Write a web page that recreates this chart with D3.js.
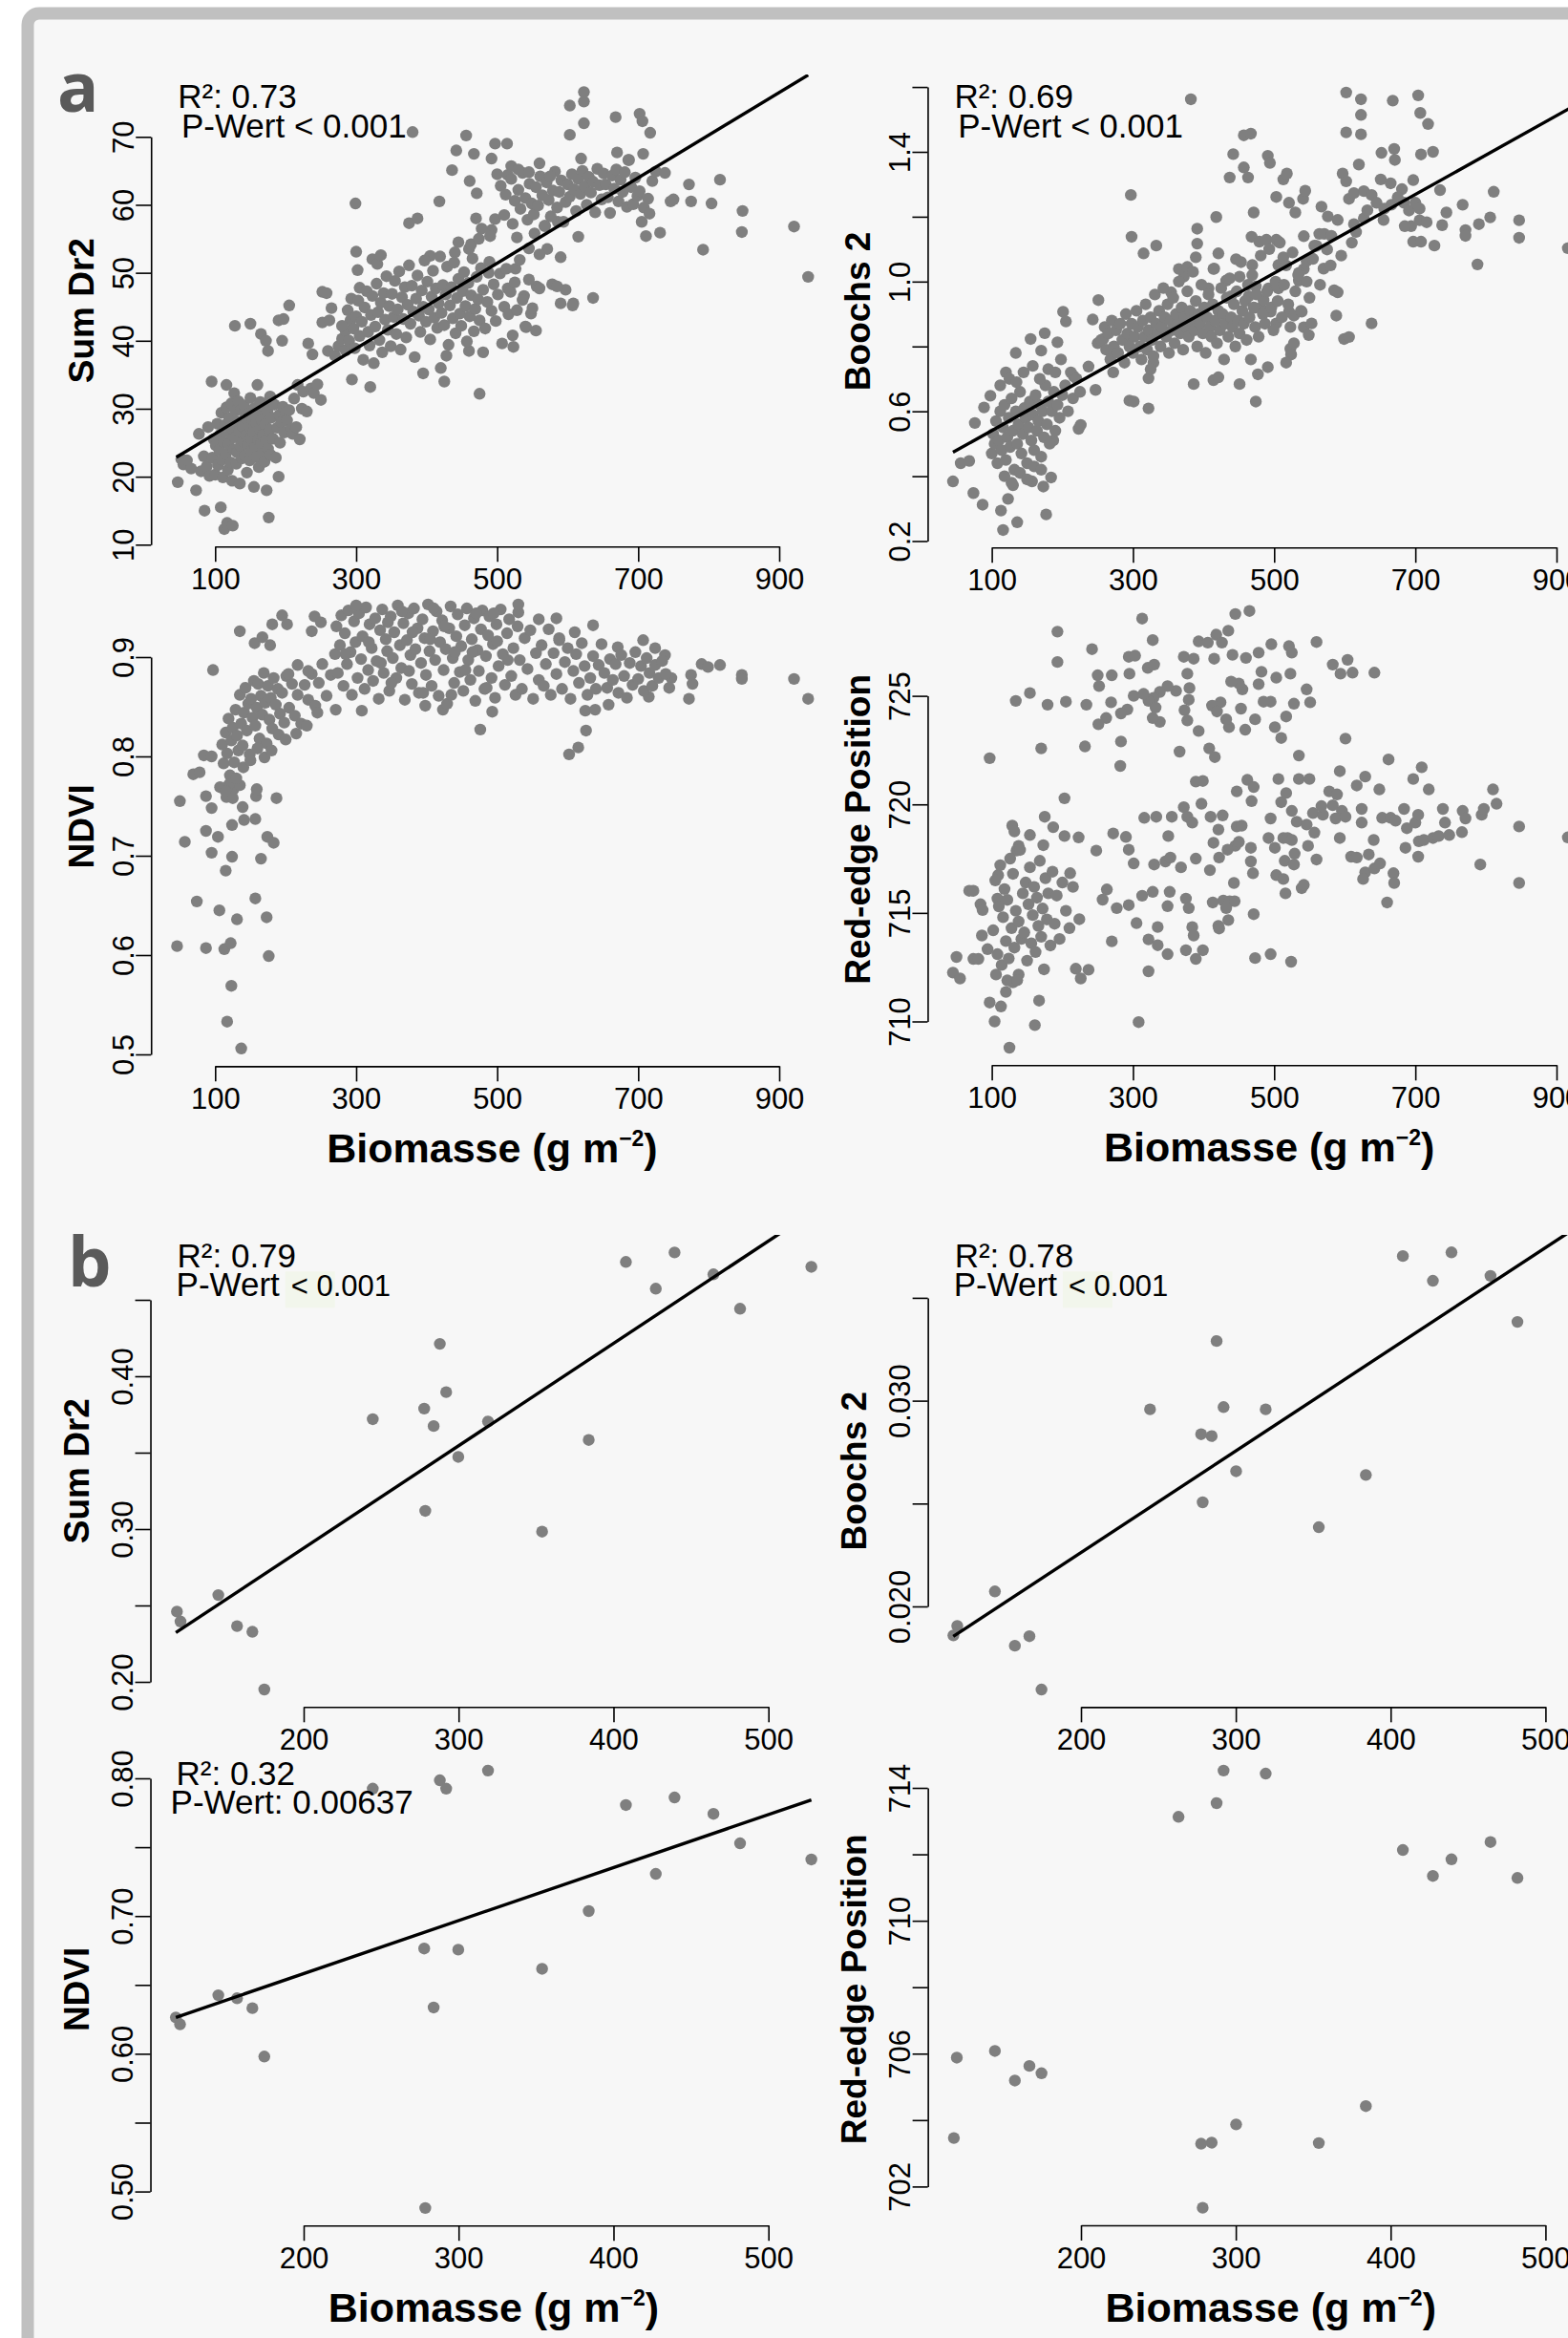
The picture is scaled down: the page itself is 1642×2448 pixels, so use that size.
<!DOCTYPE html>
<html>
<head>
<meta charset="utf-8">
<script src="https://cdn.jsdelivr.net/npm/d3@7"></script>
<style>
  body { margin: 0; background: #fff; }
  svg { display: block; }
</style>
</head>
<body>
<svg id="fig" width="1642" height="2448"></svg>
<script>
// ---- values ----
const xTicksA = [100, 300, 500, 700, 900];
const xTicksB = [200, 300, 400, 500];

const yTicksSumA = [10, 20, 30, 40, 50, 60, 70];
const yTicksBoochsA = [0.2, 0.4, 0.6, 0.8, 1.0, 1.2, 1.4, 1.6];
const yLabelsBoochsA = [0.2, 0.6, 1.0, 1.4];
const yTicksNdviA = [0.5, 0.6, 0.7, 0.8, 0.9];
const yTicksRedA = [710, 715, 720, 725];
const yTicksSumB = [0.20, 0.25, 0.30, 0.35, 0.40, 0.45];
const yLabelsSumB = [0.20, 0.30, 0.40];
const yTicksBoochsB = [0.020, 0.025, 0.030, 0.035];
const yLabelsBoochsB = [0.020, 0.030];
const yTicksNdviB = [0.50, 0.55, 0.60, 0.65, 0.70, 0.75, 0.80];
const yLabelsNdviB = [0.50, 0.60, 0.70, 0.80];
const yTicksRedB = [702, 704, 706, 708, 710, 712, 714];
const yLabelsRedB = [702, 706, 710, 714];

// regression lines (intercept, slope)
const fitSumA = [20.04, 0.06276];
const fitBoochsA = [0.419, 0.001214];
const fitSumB = [0.1535, 0.00067];
const fitBoochsB = [0.012738, 0.0000494];
const fitNdviB = [0.5812, 0.000385];

// [biomass, index]
const sumDr2A = [
[47,19.2],[52,22.6],[55,21.8],[60,22.4],[66,21.2],[73,18],[77,26.3],[80,20.8],[84,23],[85,15],[88,21.5],[90,27.3],[92,20.1],[95,34],[96,22.8],[98,25.5],
[100,20.3],[101,24.6],[103,27.8],[104,21.7],[106,23.9],[107,26.2],[108,15.5],[109,29.4],[110,22.5],[111,19.9],[112,25.1],[113,12.3],[114,27.6],[115,23.3],[116,33.5],[116,30.2],
[117,13.2],[118,21],[119,24.8],[120,28.6],[121,26.4],[122,22.1],[123,30.8],[124,19.4],[125,12.8],[125,27],[126,24],[127,32.3],[128,25.8],[129,29.7],[130,21.9],[131,23.6],
[132,28.1],[133,31.1],[134,26.7],[135,19],[136,24.5],[137,29.9],[138,22.7],[139,27.4],[140,25.2],[141,30.5],[142,23.1],[143,28.8],[144,26.1],[145,20.6],[146,24.7],[147,29.3],
[148,27.5],[149,22.4],[150,31.6],[151,25.7],[152,23.8],[153,28.4],[154,26.6],[155,18.5],[156,30.1],[157,24.3],[158,27.9],[159,22.9],[160,33.5],[160,29.2],[161,25.4],[162,21.4],
[163,27.1],[164,31],[165,24.9],[166,28.3],[167,23.4],[168,26.2],[169,30.4],[170,22.2],[171,27.7],[172,25.3],[173,18],[174,29.6],[175,24.1],[176,14],[177,26.9],[178,31.8],
[179,23.2],[180,28.7],[182,25.6],[184,30.6],[186,22.8],[188,27.2],[190,20],[191,29.1],[192,25],[194,28],[196,30.3],[198,26.5],[200,29.4],[202,28.3],[205,29.8],[207,27],
[210,26.3],[212,31.5],[215,27.3],[217,33.5],[220,25.5],[223,30],[225,32.5],[230,29.6],[236,33],[240,32.3],[245,33.6],[250,31.3],
[128,42.2],[150,42.5],[165,41],[172,40],[175,38.5],[190,43],[197,43.2],[195,40],[205,45.2],[232,39.6],[238,38],[252,47.2],[258,47],[252,42.7],[262,43],[265,44.8],
[260,38.5],[270,37.8],[275,39.2],[280,40.3],[285,41.5],[292,43],[299,60.2],
[294,34.3],[320,33.2],[300,53.1],[302,50.4],[305,47.8],[323,52],[330,51.3],[335,52.6],[375,57.3],[387,58],[405,52.5],[418,60.5],[395,35.2],[420,36],[425,34],[428,37.8],
[460,38.5],[480,38.3],[475,32.2],[440,53],[445,54.5],[460,53.5],[463,54.2],[474,55],[492,56.3],[488,50],[515,47.7],[526,50.6],[538,46.6],[541,42],[548,44],[523,39.1],
[556,48],[578,48.3],[590,52.3],[597,47.5],[608,45.5],[636,46.3],[571,53.5],[553,55.8],[568,56.9],[586,57.5],[560,47.7],[585,48],[590,45.5],[607,45.2],[615,55.3],[545,53.6],
[280,42.2],[285,38.6],[288,44.5],[290,40],[293,46.2],[296,41.8],[298,38.9],[300,43.6],[303,45.9],[305,40.7],[308,42.8],[310,37.2],[312,44.9],[315,47.3],[317,41.3],[319,39.3],
[321,43.8],[323,46.6],[325,36.7],[327,42.1],[329,48.4],[331,44.2],[333,40.1],[335,45.6],[337,38.3],[339,47],[341,43.1],[343,49.5],[345,41.6],[347,45.1],[349,39.2],[351,46.9],
[353,43.5],[355,48.8],[357,41],[359,44.6],[361,50.2],[363,38.7],[365,46.4],[367,43.2],[369,47.9],[371,40.5],[373,45.3],[375,51.1],[377,42.5],[379,48.1],[381,44.3],[383,37.6],
[385,46.2],[387,49.6],[389,43.7],[391,41.3],[393,47.4],[395,45],[397,51.8],[399,42.8],[401,48.7],[403,44.6],[405,40.2],[407,46.5],[409,50.3],[411,43.4],[413,47.7],[415,41.9],
[417,45.5],[419,52.4],[421,44.1],[423,48.2],[425,42.3],[427,46.8],[429,50.9],[431,39.4],[433,45.2],[435,47.9],[437,43.3],[439,51.5],[441,41.1],[443,46.3],[445,49.1],[447,44],
[449,42.2],[451,47.3],[453,50.1],[455,45.1],[457,39.9],[459,48.5],[461,43.6],[463,46.7],[465,52.1],[467,41.4],[469,44.7],[471,49.4],[473,46.1],[475,43],[477,50.7],[480,47.5],
[483,41.8],[486,45.7],[489,51.6],[492,44.4],[495,48.3],[498,42.9],[501,46.8],[504,49.9],[507,39.6],[510,45],[513,50.6],[516,43.9],[519,47.2],[522,40.8],[525,48.6],[528,44.5],
[532,51.9],[536,46],[540,42.1],[545,49],[550,44.8],[555,41.5],[560,52.7],
[470,58],[478,56.5],[490,55.4],[497,57.9],[500,64.5],[505,62.8],[510,58.5],[512,61.5],[515,64.4],[520,63.8],[522,57.2],[525,60.6],[528,55.2],[530,62.2],[533,59.4],[536,64.7],
[540,61],[543,57.8],[546,63.1],[549,60.2],[552,58.6],[555,62.6],[558,59.9],[561,64.2],[564,61.4],[567,56.9],[570,63.3],[573,60.7],[576,58.3],[579,62.1],[582,64.9],[585,59.6],
[588,61.9],[591,63.6],[594,57.5],[597,60.4],[600,63],[603,61.2],[606,64.5],[609,62.3],[612,59.1],[615,63.8],[618,61.6],[621,65],[624,62.7],[627,60],[630,64.1],[633,61.8],
[636,63.4],[639,58.9],[642,65.3],[645,62.9],[648,60.8],[651,64.6],[654,63],[657,61.1],[660,58.8],[663,64.3],[666,62.4],[669,65.2],[672,60.5],[675,63.7],[678,61.9],[681,64.8],
[684,59.7],[687,66.6],[690,62.6],[693,60.1],[696,64],[699,61.3],[702,62],[705,57.5],[708,59.6],[711,55.4],[714,60.9],[716,58.7],[720,63.5],[725,64.9],[731,55.9],[738,64.7],
[746,60.5],[750,60.8],
[380,70.7],[436,65.1],[442,68],[456,70.2],[461,63.5],[467,67.5],[471,61.7],[492,66.8],[497,69],[514,69],[520,65.7],[530,65.2],[545,64.8],[560,66.1],[575,64.2],[603,74.6],
[603,70.3],[619,66.8],[623,76.6],[623,75.2],[623,72],[668,72.9],[670,67.7],[686,66.6],[702,73.4],[706,72.3],[707,67.5],[717,70.6],
[772,63],[775,60.5],[792,53.4],[804,60.2],[816,63.7],[847,56],[848,59.1],[921,56.8],[941,49.4]
];

const boochsA = [
[45,0.384],[56,0.44],[68,0.447],[74,0.348],[87,0.312],[76,0.564],[89,0.612],[98,0.648],[113,0.294],[116,0.234],[136,0.258],[123,0.33],[130,0.372],[120,0.72],[134,0.78],[155,0.823],
[175,0.841],[193,0.813],[170,0.787],[177,0.282],[173,0.368],[157,0.384],[184,0.396],[187,0.51],[201,0.907],[205,0.877],[216,0.708],[223,0.546],[226,0.558],[237,0.738],[247,0.666],[251,0.943],
[243,0.883],
[100,0.47],[102,0.53],[104,0.5],[106,0.57],[108,0.44],[110,0.51],[112,0.6],[114,0.48],[116,0.55],[118,0.62],[120,0.45],[122,0.52],[124,0.58],[126,0.49],[128,0.64],[130,0.54],
[132,0.42],[134,0.6],[136,0.5],[138,0.56],[140,0.66],[142,0.47],[144,0.53],[146,0.61],[148,0.58],[150,0.44],[152,0.55],[154,0.63],[156,0.51],[158,0.59],[160,0.48],[162,0.65],
[164,0.54],[166,0.57],[168,0.62],[170,0.46],[172,0.6],[174,0.52],[176,0.68],[178,0.56],[180,0.63],[182,0.5],[185,0.6],[188,0.66],[190,0.54],[193,0.62],[196,0.58],[200,0.65],
[204,0.68],[208,0.6],[212,0.72],[215,0.64],[220,0.7],[225,0.66],[118,0.4],[128,0.38],[140,0.41],[150,0.39],[160,0.43],[170,0.42],[112,0.68],[125,0.7],[135,0.69],[145,0.72],
[158,0.74],[168,0.7],[180,0.73],[190,0.72],[198,0.76],
[297,1.267],[298,1.138],[315,1.087],[333,1.111],[295,0.633],[322,0.609],[322,0.702],[382,1.562],[391,1.163],[391,1.117],[386,0.684],[418,1.199],[421,1.087],[446,1.069],[414,0.696],[421,0.705],
[451,0.684],[474,0.63],[491,0.736],[477,0.714],[437,1.321],[442,1.393],[457,1.451],[467,1.456],[457,1.352],[463,1.321],[468,1.138],[471,1.213],[491,1.388],[494,1.366],
[293,0.817],[258,0.823],[268,0.787],[250,0.81],[272,0.72],[301,0.63],[329,0.75],[325,0.73],[354,0.967],[372,1.015],[365,1.039],[377,1.045],[389,1.075],[407,0.979],[414,1.039],[432,1.003],
[439,0.955],[451,1.015],[474,0.985],[481,0.919],[495,0.907],[503,0.871],[521,0.907],[528,0.895],[539,0.907],[542,0.859],[553,0.871],[523,0.793],[524,0.775],[517,0.75],[528,0.81],[549,0.835],
[535,1.003],[542,1.039],[535,1.027],[546,1.063],[557,1.111],[564,1.147],[571,1.147],[575,1.099],[513,1.075],[506,1.051],[492,0.979],[506,0.979],[485,0.943],[472,0.919],[464,0.955],[469,1.051],
[479,1.123],[489,1.129],[503,1.129],[506,1.123],
[255,0.82],[260,0.86],[262,0.79],[265,0.84],[268,0.76],[270,0.88],[273,0.8],[276,0.85],[279,0.78],[282,0.87],[285,0.82],[288,0.75],[290,0.9],[292,0.84],[295,0.8],[298,0.87],
[300,0.78],[302,0.83],[305,0.91],[307,0.86],[310,0.8],[312,0.76],[314,0.88],[316,0.83],[318,0.93],[320,0.79],[322,0.85],[325,0.89],[327,0.82],[329,0.77],[331,0.96],[333,0.87],
[335,0.84],[337,0.91],[339,0.8],[341,0.86],[343,0.98],[345,0.89],[347,0.83],[349,0.93],[351,0.78],[353,0.88],[355,0.85],[357,0.95],[359,0.81],[361,0.9],[363,0.87],[365,1.0],
[367,0.84],[369,0.92],[371,0.79],[373,0.89],[375,0.86],[377,0.97],[379,0.83],[381,0.91],[383,0.88],[385,1.03],[387,0.85],[389,0.94],[391,0.8],[393,0.9],[395,0.87],[397,0.99],
[399,0.84],[401,0.92],[403,0.78],[405,0.89],[407,0.96],[409,0.86],[411,0.83],[413,0.93],[415,1.04],[417,0.88],[419,0.81],[421,0.91],[423,0.85],[425,0.98],[427,0.9],[429,0.76],
[431,0.87],[433,0.95],[435,0.83],[437,1.01],[439,0.89],[441,0.86],[443,0.93],[445,0.8],[447,0.97],[449,0.88],[451,0.84],[453,1.06],[455,0.91],[457,0.87],[459,0.94],[461,0.82],
[463,0.99],[465,0.89],[467,0.76],[469,1.02],[471,0.92],[473,0.86],[475,0.96],[478,0.83],[481,1.08],[484,0.9],[487,0.87],[490,0.97],[493,1.1],[496,0.92],[499,0.85],[502,1.0],
[505,0.94],[508,1.12],[511,0.89],[514,0.99],[517,1.05],[520,0.93],[523,0.86],[526,1.09],[530,0.97],[534,1.02],[538,0.91],[542,1.14],[546,1.0],[550,0.95],[555,1.07],[560,1.11],
[565,0.99],[570,1.04],
[513,1.315],[518,1.333],[503,1.261],[521,1.243],[541,1.255],[544,1.28],[530,1.213],[567,1.231],[576,1.201],[581,1.141],[597,1.333],[602,1.309],[620,1.361],[602,1.46],[602,1.583],[623,1.562],
[623,1.514],[623,1.454],[668,1.558],[704,1.574],[707,1.52],[718,1.486],[708,1.392],[725,1.4],[652,1.397],[670,1.409],[671,1.375],[697,1.313],[651,1.315],[665,1.303],[681,1.285],[606,1.255],
[613,1.273],[627,1.279],[638,1.267],[645,1.243],[656,1.225],[666,1.237],[684,1.243],[691,1.219],[700,1.243],[706,1.225],[694,1.171],[685,1.171],[706,1.189],[716,1.183],[697,1.123],[708,1.123],
[727,1.111],[735,1.282],[744,1.213],[738,1.174],[767,1.237],[771,1.159],[771,1.141],[790,1.177],[806,1.198],[811,1.277],[788,1.053],[847,1.189],[847,1.135],[916,1.103],
[585,0.973],[590,0.967],[588,0.895],[599,0.823],[606,0.829],[638,0.871],[616,1.153],[613,1.177],[627,1.195],[580,1.05],[595,1.08],[610,1.12],[632,1.22],[655,1.19],[675,1.26],[590,1.19]
];

const ndviA = [
[46,0.609],[87,0.607],[113,0.606],[122,0.612],[123,0.569],[117,0.533],[137,0.506],[176,0.599],[74,0.654],[106,0.645],[131,0.636],[157,0.657],[173,0.638],[50,0.755],[57,0.714],[87,0.725],
[104,0.719],[95,0.703],[115,0.685],[124,0.699],[124,0.731],[141,0.736],[157,0.737],[165,0.697],[174,0.719],[183,0.713],[87,0.76],[95,0.748],[139,0.749],[158,0.76],[159,0.767],[187,0.758],
[97,0.887],[135,0.926],[69,0.782],[78,0.784],[84,0.801],[95,0.8],[107,0.769],[116,0.759],[126,0.767],[135,0.771],
[110,0.812],[112,0.793],[115,0.824],[117,0.803],[119,0.838],[121,0.781],[123,0.816],[125,0.829],[127,0.794],[129,0.847],[131,0.821],[133,0.806],[135,0.862],[137,0.833],[139,0.811],[141,0.844],
[143,0.869],[145,0.826],[147,0.853],[149,0.802],[151,0.858],[153,0.839],[155,0.876],[157,0.831],[159,0.849],[161,0.873],[163,0.818],[165,0.861],[167,0.842],[169,0.884],[171,0.854],[173,0.813],
[175,0.871],[177,0.837],[179,0.859],[181,0.828],[183,0.879],[186,0.852],[189,0.868],[192,0.843],[195,0.864],[198,0.834],[201,0.881],[205,0.849],[209,0.873],[213,0.841],[217,0.862],[222,0.833],
[227,0.872],[232,0.857],[237,0.883],[242,0.851],[247,0.874],[252,0.893],[258,0.861],[264,0.882],[120,0.772],[130,0.778],[140,0.789],[150,0.796],[160,0.808],[170,0.799],[180,0.806],[190,0.822],
[200,0.817],[215,0.823],[230,0.831],[115,0.765],[125,0.758],
[195,0.942],[202,0.933],[181,0.933],[156,0.914],[178,0.912],[167,0.92],[241,0.941],[250,0.935],[237,0.926],[217,0.892],[204,0.883],[232,0.886],
[476,0.827],[602,0.802],[615,0.809],[626,0.826],[625,0.846],[639,0.847],[658,0.852],[715,0.86],[772,0.858],[777,0.873],[775,0.882],[790,0.893],[799,0.89],[816,0.892],[847,0.882],[847,0.878],
[921,0.878],[941,0.858],[747,0.879],[738,0.902],[724,0.909],[707,0.917],[671,0.91],[636,0.932],[610,0.925],[588,0.917],[584,0.939],[559,0.938],[530,0.945],[308,0.846],[271,0.847],[245,0.844],
[423,0.847],[398,0.851],[493,0.845],
[270,0.903],[272,0.931],[274,0.884],[277,0.912],[279,0.942],[282,0.871],[284,0.924],[287,0.893],[289,0.947],[292,0.905],[294,0.862],[297,0.936],[299,0.915],[302,0.879],[304,0.944],[307,0.898],
[309,0.921],[312,0.868],[314,0.95],[317,0.887],[319,0.933],[322,0.909],[324,0.876],[327,0.939],[329,0.896],[332,0.858],[334,0.927],[337,0.948],[339,0.884],[342,0.918],[344,0.906],[347,0.866],
[349,0.941],[352,0.899],[354,0.925],[357,0.879],[359,0.952],[362,0.912],[364,0.889],[367,0.934],[369,0.857],[372,0.917],[374,0.944],[377,0.902],[379,0.873],[382,0.949],[384,0.908],[387,0.929],
[389,0.864],[392,0.894],[394,0.938],[397,0.919],[399,0.882],[402,0.953],[404,0.906],[407,0.871],[409,0.926],[412,0.897],[414,0.946],[417,0.861],[419,0.915],[422,0.937],[424,0.887],[427,0.908],
[429,0.853],[432,0.929],[434,0.951],[437,0.899],[439,0.874],[442,0.921],[444,0.943],[447,0.885],[449,0.911],[452,0.866],[454,0.932],[457,0.949],[459,0.897],[462,0.877],[464,0.918],[467,0.939],
[469,0.856],[472,0.907],[474,0.886],[477,0.928],[479,0.947],[482,0.868],[484,0.901],[487,0.922],[489,0.941],[492,0.879],[494,0.913],[497,0.859],[499,0.933],[502,0.891],[505,0.948],[508,0.903],
[511,0.872],[514,0.924],[517,0.938],[520,0.881],[523,0.909],[526,0.862],[529,0.931],[532,0.897],[535,0.868],[539,0.919],[543,0.888],[547,0.927],[551,0.858],[555,0.904],[559,0.877],
[285,0.903],[300,0.952],[318,0.915],[335,0.894],[350,0.874],[365,0.946],[380,0.925],[395,0.864],[410,0.949],[425,0.931],[440,0.905],[455,0.887],[470,0.944],[485,0.869],[500,0.916],[515,0.897],
[530,0.953],[345,0.935],[375,0.886],[405,0.918],[435,0.862],[465,0.905],[495,0.944],
[563,0.912],[566,0.871],[569,0.893],[573,0.928],[576,0.862],[580,0.904],[584,0.883],[588,0.919],[592,0.868],[596,0.895],[600,0.909],[604,0.858],[608,0.886],[612,0.903],[616,0.874],[620,0.914],
[624,0.891],[628,0.862],[632,0.879],[636,0.901],[640,0.868],[644,0.892],[648,0.913],[652,0.884],[656,0.869],[660,0.898],[664,0.877],[668,0.893],[672,0.864],[676,0.902],[680,0.881],[684,0.859],
[688,0.894],[692,0.872],[696,0.905],[700,0.878],[704,0.891],[708,0.866],[712,0.899],[716,0.884],[720,0.871],[724,0.892],[729,0.879],[734,0.896],[739,0.883],[744,0.869]
];

const redEdgeA = [
[193,727.96],[193,726.56],[313,728.56],[328,727.57],[242,727.15],[294,726.8],[303,726.85],[295,726.02],[270,725.95],[250,725.95],[252,725.45],[321,726.29],[330,726.44],[372,726.8],[386,726.71],[377,726.02],
[393,727.51],[406,727.45],[418,727.82],[426,727.45],[435,728],[445,728.77],[465,728.91],[415,726.71],[441,726.89],[460,726.75],[478,726.99],[496,727.38],[521,727.29],[525,726.99],[560,727.48],[583,726.44],
[594,726.02],[604,726.66],[611,726.07],[642,726.07],[523,726.02],[503,725.84],[546,725.3],[551,724.7],[528,724.64],[495,724.73],[485,724.73],[482,726.11],[478,725.54],[455,725.3],[450,725.57],[439,725.66],
[453,724.41],[473,723.92],[459,723.44],[501,723.56],[510,723.06],[517,724.05],[436,723.56],[432,723.92],[424,724.7],[412,724.55],[419,724.28],[393,723.38],[408,722.58],[416,722.18],[380,725.36],[379,724.82],
[373,724.34],[377,723.87],[361,725.23],[349,725.45],[338,725.18],[329,724.91],[322,724.77],[315,725.09],[301,725],[332,724.46],[338,723.8],[328,723.98],[292,724.37],[283,724.19],[269,724.7],[262,723.98],
[251,723.69],[234,724.59],[205,724.73],[179,724.59],[154,725.13],[134,724.77],[283,722.9],[232,722.67],[170,722.58],[97,722.13],[282,721.77],[366,722.43],[601,723.03],[535,722.25],
[45,712.25],[50,712.97],[55,711.98],[68,716.02],[74,716.02],[74,712.88],[84,715.4],[87,715.13],[86,713.96],[81,712.88],[94,713.33],[97,710.87],[104,710],[109,716.74],[108,715.66],[106,712.16],
[113,710.69],[125,708.79],[122,711.89],[120,711.36],[130,711.8],[138,712.16],[129,719.02],[132,718.75],[138,718.09],[135,717.87],[154,718.59],[167,710.96],[161,709.83],[175,719.43],[173,718.12],[187,718.95],
[203,718.54],[203,720.28],[223,718.48],[211,716.83],[224,714.71],[219,712.43],[226,711.98],[237,712.38],[248,717.87],[263,716.08],[257,715.61],[270,713.69],[272,718.66],[290,718.5],[294,717.91],[301,717.28],
[305,714.53],[294,715.36],[277,715.22],[316,719.38],[333,719.43],[313,715.79],[328,715.97],[322,713.78],[322,712.31],[308,709.97],[335,713.51],[349,713.1],[335,714.35],[330,717.23],[346,717.37],[353,717.55],
[350,718.54],[355,719.43],[352,715.97],[349,715.31],[372,719.87],[377,719.43],[384,719.16],[368,717.1],[375,715.66],[379,715.22],[384,714.35],[386,713.96],[375,713.28],[389,712.88],[399,713.28],[389,721.05],
[399,721.08],[397,720.03],[410,719.43],[421,718.84],[427,719.49],[414,718.23],[422,717.55],[409,716.97],[389,717.5],[413,715.48],[428,715.57],[437,715.54],[444,715.54],[432,715.22],[435,714.67],[421,714.4],
[422,714.28],[443,716.38],[447,718.98],[454,719.02],[445,718.09],[434,717.91],[450,718.27],[467,718],[467,717.37],[470,716.83],[471,714.94],[473,712.92],[495,713.1],[524,712.75],[447,720.6],[462,721.13],
[468,720.15],[471,720.8],[495,719.35],[492,718.45],[501,718],[513,718.45],[519,718.45],[525,718.36],[529,717.73],[515,717.4],[503,716.74],[513,716.56],[516,715.9],[528,717.23],[539,716.14],[542,716.29],
[506,721.17],[535,721.17],[550,721.17],[510,720.1],[517,720.52],[525,719.7],[532,719.2],[546,719.07],[555,719.6],[557,718.7],[548,718.09],[560,717.46],[578,720.6],[583,719.96],[589,720.46],[596,719.7],
[587,719.35],[601,719.43],[593,718.45],[569,719.52],[567,719.92],[593,721.53],[617,720.87],[629,721.28],[624,719.79],[624,719.16],[609,717.59],[617,717.55],[634,717.69],[629,716.87],[626,716.56],[642,717.05],
[650,717.28],[641,718.36],[649,720.69],[662,722.07],[653,719.38],[665,719.38],[672,719.25],[660,715.48],[669,716.83],[670,716.38],[684,719.79],[688,718.9],[686,718],[697,721.17],[700,719.16],[704,719.52],
[709,721.71],[719,720.69],[705,718.3],[712,718.36],[725,718.45],[733,718.54],[704,717.59],[742,719.16],[739,719.79],[748,718.59],[767,719.7],[771,719.35],[766,718.72],[794,719.52],[797,719.79],[810,720.69],
[815,720.03],[792,717.23],[847,718.98],[847,716.38],[916,718.48],
[102,714.2],[105,716.5],[108,713.1],[110,715.3],[112,717.2],[114,712.6],[116,714.8],[118,716.1],[120,713.7],[122,715.6],[124,712.9],[126,717.5],[128,714.3],[130,716.8],[132,713.4],[134,715.1],
[136,711.9],[138,714.6],[140,717.9],[142,713.8],[144,715.9],[146,714.1],[148,716.4],[150,712.8],[152,715.4],[154,717.1],[156,713.6],[158,714.9],[160,716.2],[162,713.2],[164,715.7],[166,714.4],
[168,717.4],[170,713.9],[172,715.2],[174,712.4],[176,716.6],[178,714.7],[180,715.9],[183,713.5],[186,716.9],[189,714.5],[192,715.8],[196,713.8],[200,716.4],[205,715.1],[210,714.3],[215,716.2]
];

const sumDr2B = [
[118.2,0.246],[120.5,0.2395],[144.9,0.2568],[157,0.2365],[166.9,0.2328],[174.6,0.195],[244.6,0.3719],[277.8,0.3788],[283.9,0.3674],[287.9,0.4212],[292,0.3896],
[278.5,0.3119],[299.8,0.3472],[319,0.3704],[353.9,0.2983],[384,0.3583],[408,0.4748],[427.3,0.4573],[439.4,0.481],[464.5,0.4667],[481.7,0.4442],[527.7,0.4716]
];
const boochsB = [
[117.6,0.01859],[120.1,0.01905],[144.4,0.02073],[157.3,0.01809],[166.7,0.01855],[174.5,0.01596],[244.6,0.02958],[277.6,0.02837],[284.4,0.02828],[287.6,0.0329],[292.1,0.02969],
[278.6,0.02506],[300.2,0.02657],[319.3,0.02958],[353.6,0.02385],[384,0.02639],[407.9,0.03703],[427.3,0.03583],[439.3,0.03721],[464.5,0.03607],[481.9,0.03383]
];
const ndviB = [
[117.5,0.6264],[120.2,0.6214],[144.9,0.6425],[157,0.6403],[166.9,0.6331],[174.6,0.598],[244.6,0.7925],[277.8,0.6764],[283.9,0.6336],[287.9,0.7986],[292,0.7925],
[278.5,0.488],[299.8,0.6756],[319,0.8056],[353.9,0.6617],[384,0.7036],[408,0.7806],[427.3,0.7306],[439.4,0.7861],[464.5,0.7742],[481.7,0.7528],[527.7,0.7411]
];
const redEdgeB = [
[117.9,703.46],[119.8,705.88],[144.4,706.08],[157.3,705.19],[166.7,705.63],[174.5,705.41],[263,713.13],[277.6,703.29],[284.4,703.32],[287.6,713.54],[292.1,714.52],
[278.6,701.36],[300.2,703.87],[319.3,714.43],[353.6,703.31],[384,704.42],[407.9,712.13],[427.3,711.35],[439.3,711.85],[464.5,712.37],[481.9,711.29]
];

// ---- layout ----
const FONT = "'Liberation Sans', Arial, Helvetica, sans-serif";
const svg = d3.select("#fig");

svg.append("rect")
  .attr("x", 29).attr("y", 14)
  .attr("width", 1760).attr("height", 2560)
  .attr("rx", 12)
  .attr("fill", "#f7f7f7")
  .attr("stroke", "#c0c0c0")
  .attr("stroke-width", 13);

const rowA = { yTitleOff: 60, noteDx: [28, 22] };
const rowB = { yTitleOff: 65, noteDx: [28, 27] };

const panels = [
  { grp: "a", data: sumDr2A, xa: [100, 225.3, 900, 816], ya: [10, 570.3, 70, 143.3], xTicks: xTicksA, yTicks: yTicksSumA, yLabels: yTicksSumA,
    fmt: d3.format("d"), title: "Sum Dr2", row: rowA, fit: fitSumA,
    notes: [["R²: 0.73", 113.3], [" P-Wert < 0.001", 144]] },
  { grp: "a", data: boochsA, xa: [100, 1038.6, 900, 1630], ya: [0.2, 566.5, 1.4, 159], xTicks: xTicksA, yTicks: yTicksBoochsA, yLabels: yLabelsBoochsA,
    fmt: d3.format(".1f"), title: "Boochs 2", row: rowA, fit: fitBoochsA,
    notes: [["R²: 0.69", 113.3], [" P-Wert < 0.001", 144]] },
  { grp: "a", data: ndviA, xa: [100, 225.3, 900, 816], ya: [0.5, 1104, 0.9, 688], xTicks: xTicksA, yTicks: yTicksNdviA, yLabels: yTicksNdviA,
    fmt: d3.format(".1f"), title: "NDVI", row: rowA, xTitle: true },
  { grp: "a", data: redEdgeA, xa: [100, 1038.6, 900, 1630], ya: [710, 1069.5, 725, 728.6], xTicks: xTicksA, yTicks: yTicksRedA, yLabels: yTicksRedA,
    fmt: d3.format("d"), title: "Red-edge Position", row: rowA, xTitle: true },
  { grp: "b", data: sumDr2B, xa: [200, 318, 500, 804.7], ya: [0.20, 1761, 0.40, 1441], xTicks: xTicksB, yTicks: yTicksSumB, yLabels: yLabelsSumB,
    fmt: d3.format(".2f"), title: "Sum Dr2", row: rowB, fit: fitSumB,
    notes: [["R²: 0.79", 1327.3], ["P-Wert", 1357.3, "< 0.001"]] },
  { grp: "b", data: boochsB, xa: [200, 1132, 500, 1618.4], ya: [0.020, 1682, 0.030, 1466.6], xTicks: xTicksB, yTicks: yTicksBoochsB, yLabels: yLabelsBoochsB,
    fmt: d3.format(".3f"), title: "Boochs 2", row: rowB, fit: fitBoochsB,
    notes: [["R²: 0.78", 1327.3], ["P-Wert", 1357.3, "< 0.001"]] },
  { grp: "b", data: ndviB, xa: [200, 318, 500, 804.7], ya: [0.50, 2294.6, 0.80, 1862], xTicks: xTicksB, yTicks: yTicksNdviB, yLabels: yLabelsNdviB,
    fmt: d3.format(".2f"), title: "NDVI", row: { yTitleOff: 65, noteDx: [27, 21] }, fit: fitNdviB, xTitle: true,
    notes: [["R²: 0.32", 1868.9], ["P-Wert: 0.00637", 1898.9]] },
  { grp: "b", data: redEdgeB, xa: [200, 1132, 500, 1618.4], ya: [702, 2289.4, 714, 1872], xTicks: xTicksB, yTicks: yTicksRedB, yLabels: yLabelsRedB,
    fmt: d3.format("d"), title: "Red-edge Position", row: rowB, xTitle: true }
];

// R default axis range: data range widened by 4 %
function rlim(vals) {
  const [lo, hi] = d3.extent(vals);
  const pad = (hi - lo) * 0.04;
  return [lo - pad, hi + pad];
}

// the four panels of a block share the same biomass samples
const biomass = {};
panels.forEach(p => {
  biomass[p.grp] = (biomass[p.grp] || []).concat(p.data.map(d => d[0]));
});

panels.forEach((p, i) => {
  const x = d3.scaleLinear().domain([p.xa[0], p.xa[2]]).range([p.xa[1], p.xa[3]]);
  const y = d3.scaleLinear().domain([p.ya[0], p.ya[2]]).range([p.ya[1], p.ya[3]]);
  const xlim = rlim(biomass[p.grp]);
  const ylim = rlim(p.data.map(d => d[1]));
  const left = x(xlim[0]), right = x(xlim[1]);
  const top = y(ylim[1]), bottom = y(ylim[0]);

  const g = svg.append("g").attr("class", "panel");

  g.append("clipPath").attr("id", "clip" + i)
    .append("rect")
    .attr("x", left).attr("y", top)
    .attr("width", right - left).attr("height", bottom - top);

  g.append("g")
    .selectAll("circle")
    .data(p.data)
    .join("circle")
    .attr("cx", d => x(d[0]))
    .attr("cy", d => y(d[1]))
    .attr("r", 6.2)
    .attr("fill", "#7f7f7f");

  if (p.fit) {
    const [b0, b1] = p.fit;
    const ends = d3.extent(biomass[p.grp]).map(v => [v, b0 + b1 * v]);
    g.append("path")
      .attr("clip-path", `url(#clip${i})`)
      .attr("d", d3.line().x(d => x(d[0])).y(d => y(d[1]))(ends))
      .attr("fill", "none")
      .attr("stroke", "#000")
      .attr("stroke-width", 3.4);
  }

  // x axis, line only between first and last tick (R style)
  const xt = d3.extent(p.xTicks);
  const xAxisScale = x.copy().domain(xt).range(xt.map(x));
  const ax = g.append("g")
    .attr("transform", `translate(0,${bottom})`)
    .call(d3.axisBottom(xAxisScale).tickValues(p.xTicks).tickSize(16).tickSizeOuter(0).tickFormat(d3.format("d")));
  ax.selectAll("text").attr("y", 45).attr("dy", null);

  const yt = d3.extent(p.yTicks);
  const yAxisScale = y.copy().domain(yt).range(yt.map(y));
  const ay = g.append("g")
    .attr("transform", `translate(${left},0)`)
    .call(d3.axisLeft(yAxisScale).tickValues(p.yTicks).tickSize(16).tickSizeOuter(0)
      .tickFormat(d => p.yLabels.includes(d) ? p.fmt(d) : ""));
  ay.selectAll("text")
    .attr("transform", "rotate(-90)")
    .attr("x", 0).attr("y", -18.6).attr("dy", null)
    .attr("text-anchor", "middle");

  [ax, ay].forEach(a => {
    a.attr("font-family", FONT).attr("font-size", 31);
    a.selectAll("path, line").attr("stroke", "#000").attr("stroke-width", 1.6);
    a.selectAll("text").attr("fill", "#000");
  });

  g.append("text")
    .attr("transform", `translate(${left - p.row.yTitleOff},${(top + bottom) / 2}) rotate(-90)`)
    .attr("text-anchor", "middle")
    .attr("font-family", FONT).attr("font-weight", "bold").attr("font-size", 37)
    .text(p.title);

  if (p.xTitle) {
    const t = g.append("text")
      .attr("x", (left + right) / 2).attr("y", bottom + 101)
      .attr("text-anchor", "middle")
      .attr("font-family", FONT).attr("font-weight", "bold").attr("font-size", 43);
    t.append("tspan").text("Biomasse (g m");
    t.append("tspan").attr("font-size", 23).attr("dy", -17).text("\u22122");
    t.append("tspan").attr("dy", 17).text(")");
  }

  if (p.notes) {
    const ng = g.append("g").attr("class", "notes");
    p.notes.forEach((n, k) => {
      const t = ng.append("text")
        .attr("x", left + p.row.noteDx[k]).attr("y", n[1])
        .attr("font-family", FONT).attr("font-size", 35)
        .attr("xml:space", "preserve")
        .text(n[0]);
      if (n[2]) {
        const w = t.node().getComputedTextLength();
        const bx = left + p.row.noteDx[k] + w + 6;
        ng.insert("rect", ":first-child")
          .attr("x", bx).attr("y", n[1] - 26)
          .attr("width", 52).attr("height", 38)
          .attr("fill", "#f2f6ec");
        ng.append("text")
          .attr("x", bx + 6).attr("y", n[1])
          .attr("font-family", FONT).attr("font-size", 31)
          .text(n[2]);
      }
    });
  }
});

// panel letters
const letters = [["a", 60, 117], ["b", 71, 1347]];
svg.selectAll("text.letter")
  .data(letters)
  .join("text")
  .attr("class", "letter")
  .attr("x", d => d[1]).attr("y", d => d[2])
  .attr("font-family", "'Open Sans', 'DejaVu Sans', sans-serif")
  .attr("font-weight", "bold").attr("font-size", 72)
  .attr("fill", "#5a5a5a")
  .text(d => d[0]);
</script>
</body>
</html>
